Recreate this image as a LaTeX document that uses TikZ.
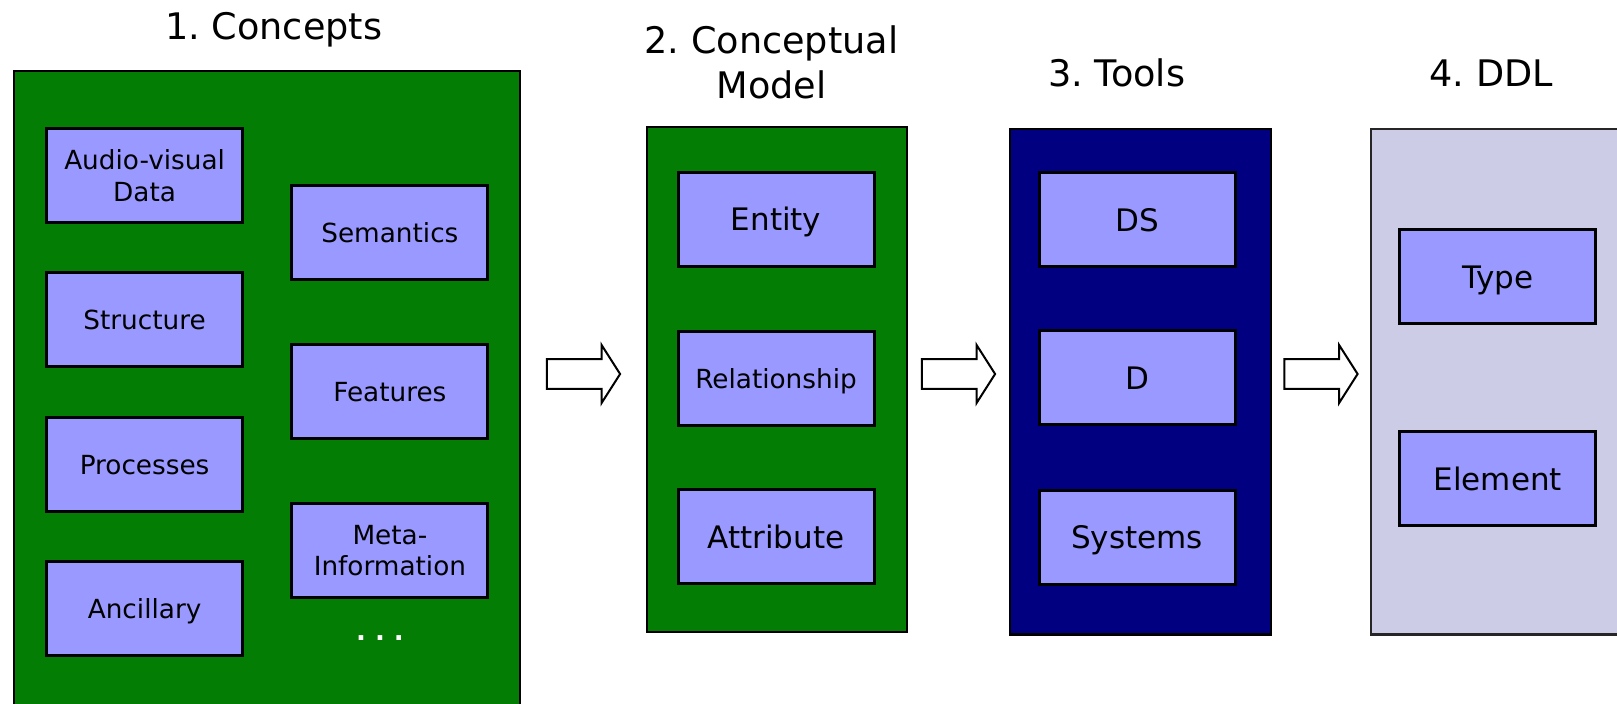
\documentclass[tikz,border=0pt]{standalone}
\usepackage{fontspec}
\setmainfont{DejaVu Sans}
\usetikzlibrary{calc}
\definecolor{panelgreen}{RGB}{4,125,4}
\definecolor{panelnavy}{RGB}{0,0,128}
\definecolor{panellilac}{RGB}{204,204,230}
\definecolor{cellblue}{RGB}{153,153,255}

\begin{document}
\begin{tikzpicture}[x=1pt, y=-1pt,
    panel/.style={draw=black, line width=2.5pt, inner sep=0pt},
    cell/.style={draw=black, line width=3pt, fill=cellblue, align=center,
      minimum width=196pt, minimum height=94pt, inner sep=0pt,
      font=\fontsize{26.3}{31.5}\selectfont},
    small/.style={cell, text height=19.5pt, text depth=0pt},
    big/.style={cell, font=\fontsize{31}{37}\selectfont,
      text height=23pt, text depth=0pt},
    heading/.style={font=\fontsize{36.6}{45}\selectfont, align=center,
      inner sep=0pt},
    fatarrow/.pic={
      \draw[fill=white, line width=2pt, line join=miter]
        (-36.6,-14.85) -- (18,-14.85) -- (18,-29.15) -- (36.6,0)
        -- (18,29.15) -- (18,14.85) -- (-36.6,14.85) -- cycle;}
  ]
  \clip (0,0) rectangle (1617,704);
  \fill[white] (0,0) rectangle (1617,704);

  % panels
  \node[panel, fill=panelgreen, minimum width=506pt, minimum height=654pt]
    (concepts) at (267,398) {};
  \node[panel, fill=panelgreen, minimum width=260pt, minimum height=505pt]
    (model) at (777,379.5) {};
  \node[panel, fill=panelnavy, minimum width=261pt, minimum height=505.5pt]
    (tools) at (1140.5,381.8) {};
  \node[panel, draw=black!85, fill=panellilac, minimum width=300pt,
    minimum height=505.5pt] (ddl) at (1521,381.8) {};

  % headings
  \node[heading, anchor=base] (conceptshead) at (273.8,39.5) {1.~Concepts};
  \node[heading] (modelhead) at (771.4,62.4) {2.~Conceptual\\Model};
  \node[heading, anchor=base] (toolshead) at (1116.8,86.2) {3.~Tools};
  \node[heading, anchor=base] (ddlhead) at (1491.3,86.2) {4.~DDL};

  % concepts
  \node[cell] (avdata) at (144.6,175.6) {Audio-visual\\Data};
  \node[small] (structure) at (144.6,319.8) {Structure};
  \node[small] (processes) at (144.6,464.3) {Processes};
  \node[small] (ancillary) at (144.6,608.5) {Ancillary};
  \node[small] (semantics) at (389.9,232.8) {Semantics};
  \node[small] (features) at (389.9,391.8) {Features};
  \node[cell] (metainfo) at (389.9,550.8) {Meta-\\Information};
  \node[font=\fontsize{26}{30}\selectfont\bfseries, text=white, inner sep=0pt]
    (more) at (380,637.7) {.\ .\ .};

  % conceptual model
  \node[big] (entity) at (776,219.2) {Entity};
  \node[small] (relationship) at (776,378.3) {Relationship};
  \node[big] (attribute) at (776,536.8) {Attribute};

  % tools
  \node[big] (ds) at (1137,219.6) {DS};
  \node[big] (d) at (1137,377.9) {D};
  \node[big] (systems) at (1137,537) {Systems};

  % ddl
  \node[big] (type) at (1497.7,276.9) {Type};
  \node[big] (element) at (1497.7,478.9) {Element};

  % block arrows between the stages
  \coordinate (arrowrow) at (0,374);
  \coordinate (gap1) at ($(concepts.east)!0.5!(model.west)$);
  \coordinate (gap2) at ($(model.east)!0.5!(tools.west)$);
  \coordinate (gap3) at ($(tools.east)!0.5!(ddl.west)$);
  \pic at (gap1 |- arrowrow) {fatarrow};
  \pic at (gap2 |- arrowrow) {fatarrow};
  \pic at (gap3 |- arrowrow) {fatarrow};
\end{tikzpicture}
\end{document}
